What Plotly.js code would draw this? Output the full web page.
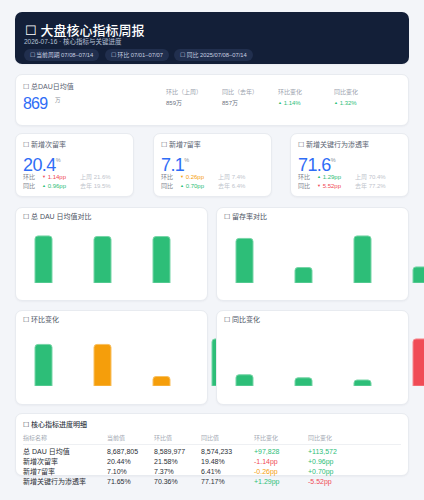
<!DOCTYPE html>
<html><head><meta charset="utf-8">
<script src="https://cdn.plot.ly/plotly-3.0.1.min.js"></script>
<style>
html,body{margin:0;padding:0;width:424px;height:500px;overflow:hidden;background:#f3f5f9;font-family:"Liberation Sans","Noto Sans CJK SC",sans-serif;}
.abs{position:absolute;white-space:nowrap;}
.card{position:absolute;background:#fff;border:1px solid #e8ebf0;border-radius:7px;box-sizing:border-box;box-shadow:0 1px 2px rgba(20,30,60,0.04);}
</style></head><body>
<div id="root" style="position:relative;width:424px;height:500px;"></div>
<script>
// ---------- data ----------
const reportDate = '2026-07-16';
const periodLabels = ['当前周期 07/08–07/14', '环比 07/01–07/07', '同比 2025/07/08–07/14'];
const periods = ['当前', '上周', '去年'];
const dauAvg = [8687805, 8589977, 8574233];
const retD1 = [20.44, 21.58, 19.48];
const retD7 = [7.10, 7.37, 6.41];
const keyRate = [71.646, 70.36, 77.17];
const metricNames = ['总 DAU 日均值', '新增次留率', '新增7留率', '新增关键行为渗透率'];
const curVals = ['8,687,805', '20.44%', '7.10%', '71.65%'];
const wowVals = ['8,589,977', '21.58%', '7.37%', '70.36%'];
const yoyVals = ['8,574,233', '19.48%', '6.41%', '77.17%'];
const wowChg = ['+97,828', '-1.14pp', '-0.26pp', '+1.29pp'];
const yoyChg = ['+113,572', '+0.96pp', '+0.70pp', '-5.52pp'];
const wowPct = [1.14, -1.14, -0.26, 1.29];
const yoyPct = [1.32, 0.96, 0.70, -5.52];
const changeKeys = ['DAU', '次留', '7留', '渗透'];

// ---------- styles ----------
const GREEN = '#2dbe78', ORANGE = '#f59e0b', RED = '#f04b55', BLUE = '#2f6df6';
const wowTableColors = [GREEN, RED, ORANGE, GREEN];
const yoyTableColors = [GREEN, GREEN, GREEN, RED];
const wowBarColors = [GREEN, ORANGE, ORANGE, GREEN];
const yoyBarColors = [GREEN, GREEN, GREEN, RED];
const root = document.getElementById('root');

function card(x, y, w, h, bg) {
  const d = document.createElement('div');
  d.className = 'card';
  d.style.left = x + 'px'; d.style.top = y + 'px';
  d.style.width = w + 'px'; d.style.height = h + 'px';
  if (bg) { d.style.background = bg; d.style.border = 'none'; }
  d._x = x; d._y = y;
  root.appendChild(d);
  return d;
}
function txt(parent, x, cy, html, size, color, extra) {
  const d = document.createElement('div');
  d.className = 'abs';
  const lh = Math.round(size * 1.3);
  d.style.left = (x - parent._x) + 'px';
  d.style.top = (cy - lh / 2 - parent._y) + 'px';
  d.style.fontSize = size + 'px';
  d.style.lineHeight = lh + 'px';
  d.style.color = color;
  if (extra) Object.assign(d.style, extra);
  d.innerHTML = html;
  parent.appendChild(d);
  return d;
}
const fmtWan = v => Math.round(v / 10000) + '万';
const arrow = (v) => '<span style="font-size:4px;vertical-align:1px">' + (v >= 0 ? '▲' : '▼') + '</span>';

// ---------- header ----------
const hdr = card(15, 12, 394, 52, '#131f38');
txt(hdr, 25, 30, '☐ 大盘核心指标周报', 13, '#ffffff', {fontWeight: '500'});
txt(hdr, 24, 42, reportDate + ' · 核心指标与关键进度', 6.5, '#b7c1d5');
const pillX = [24, 105, 174], pillW = [75, 64, 79];
periodLabels.forEach((p, i) => {
  const d = document.createElement('div');
  d.className = 'abs';
  Object.assign(d.style, {left: (pillX[i] - 15) + 'px', top: (49 - 12) + 'px', width: pillW[i] + 'px', height: '12px',
    background: '#212f4e', borderRadius: '6px', fontSize: '5.8px', lineHeight: '12px', color: '#c9d1e1', textAlign: 'center'});
  d.textContent = '☐ ' + p;
  hdr.appendChild(d);
});

// ---------- DAU card ----------
const dc = card(15, 74, 394, 52);
txt(dc, 22, 85, '☐ 总DAU日均值', 7, '#5b6372');
txt(dc, 22, 102.5, Math.round(dauAvg[0] / 10000), 16, BLUE, {letterSpacing: '-0.8px'});
txt(dc, 54, 99.5, '万', 5.5, '#8a8f99');
const dauHead = ['环比（上周）', '同比（去年）', '环比变化', '同比变化'];
const dauCols = [165, 221, 277, 333];
dauHead.forEach((h, i) => txt(dc, dauCols[i], 90.5, h, 6, '#9aa1ad'));
txt(dc, dauCols[0], 101.5, fmtWan(dauAvg[1]), 6, '#6b7280');
txt(dc, dauCols[1], 101.5, fmtWan(dauAvg[2]), 6, '#6b7280');
txt(dc, dauCols[2], 101.5, arrow(wowPct[0]) + ' ' + wowPct[0].toFixed(2) + '%', 6, GREEN);
txt(dc, dauCols[3], 101.5, arrow(yoyPct[0]) + ' ' + yoyPct[0].toFixed(2) + '%', 6, GREEN);

// ---------- small KPI cards ----------
const kpiLeft = [15, 153, 290];
const kpiData = [retD1, retD7, keyRate];
const kpiNames = ['☐ 新增次留率', '☐ 新增7留率', '☐ 新增关键行为渗透率'];
const kpiWowColor = [RED, ORANGE, GREEN];
const kpiYoyColor = [GREEN, GREEN, RED];
kpiLeft.forEach((L, i) => {
  const c = card(L, 133, 119, 64);
  const d = kpiData[i];
  txt(c, L + 7, 143, kpiNames[i], 7, '#5b6372');
  txt(c, L + 7, 159.5, d[0].toFixed(1) + '<span style="font-size:5.5px;vertical-align:9px;color:#8a8f99;letter-spacing:0">%</span>', 18, BLUE, {letterSpacing: '-0.6px'});
  const w = wowPct[i + 1], y = yoyPct[i + 1];
  txt(c, L + 7, 175.5, '环比', 6, '#7b818c');
  txt(c, L + 26, 175.5, arrow(w) + ' ' + Math.abs(w).toFixed(2) + 'pp', 6, kpiWowColor[i]);
  txt(c, L + 64, 175.5, '上周 ' + d[1].toFixed(1) + '%', 6, '#c0c4cc');
  txt(c, L + 7, 185, '同比', 6, '#7b818c');
  txt(c, L + 26, 185, arrow(y) + ' ' + Math.abs(y).toFixed(2) + 'pp', 6, kpiYoyColor[i]);
  txt(c, L + 64, 185, '去年 ' + d[2].toFixed(1) + '%', 6, '#c0c4cc');
});

// ---------- chart cards ----------
function lighten(hex) {
  const n = parseInt(hex.slice(1), 16);
  const r = (n >> 16) & 255, g = (n >> 8) & 255, b = n & 255;
  const f = v => Math.round(v + (255 - v) * 0.35);
  return 'rgb(' + f(r) + ',' + f(g) + ',' + f(b) + ')';
}
function chartCard(L, T, H, title, cats, vals, colors) {
  const c = card(L, T, 193, H);
  txt(c, L + 7, T + 8.5, title, 7, '#4b5363');
  const div = document.createElement('div');
  div.className = 'abs';
  const n = cats.length;
  Object.assign(div.style, {left: '-2px', top: '27px', width: (59 * n) + 'px', height: '48px', overflow: 'visible'});
  c.appendChild(div);
  const maxV = Math.max(...vals);
  Plotly.newPlot(div, [{
    type: 'bar', x: cats, y: vals,
    marker: {color: colors, cornerradius: 3, line: {color: colors.map(lighten), width: 1}},
    hoverinfo: 'skip'
  }], {
    width: 59 * n, height: 48, margin: {l: 0, r: 0, t: 0, b: 0, pad: 0},
    paper_bgcolor: 'rgba(0,0,0,0)', plot_bgcolor: 'rgba(0,0,0,0)',
    bargap: 0.712, showlegend: false,
    xaxis: {type: 'category', visible: false, range: [-0.5, n - 0.5], fixedrange: true},
    yaxis: {visible: false, range: [0, maxV * 1.02], fixedrange: true}
  }, {staticPlot: true, displayModeBar: false});
}
chartCard(15, 207, 94, '☐ 总 DAU 日均值对比', periods, dauAvg, periods.map(() => GREEN));
const retCats = [], retVals = [];
periods.forEach((p, i) => { retCats.push(p + '次留'); retVals.push(retD1[i]); retCats.push(p + '7留'); retVals.push(retD7[i]); });
chartCard(216, 207, 94, '☐ 留存率对比', retCats, retVals, retCats.map(() => GREEN));
chartCard(15, 310, 95, '☐ 环比变化', changeKeys, wowPct.map(Math.abs), wowBarColors);
chartCard(216, 310, 95, '☐ 同比变化', changeKeys, yoyPct.map(Math.abs), yoyBarColors);

// ---------- table ----------
const tb = card(15, 413, 394, 63);
tb.style.overflow = 'visible';
txt(tb, 22, 423.5, '☐ 核心指标进度明细', 7, '#333a45', {fontWeight: '500'});
const colX = [22, 106, 153, 200, 253, 307];
const heads = ['指标名称', '当前值', '环比值', '同比值', '环比变化', '同比变化'];
heads.forEach((h, i) => txt(tb, colX[i], 437, h, 6, '#a3a9b3'));
const line = document.createElement('div');
line.className = 'abs';
Object.assign(line.style, {left: '7px', top: (443 - 413) + 'px', width: '378px', height: '1px', background: '#eef0f3'});
tb.appendChild(line);
metricNames.forEach((m, r) => {
  const cy = 450.5 + r * 10;
  txt(tb, colX[0], cy, m, 7, '#2b2f36');
  txt(tb, colX[1], cy, curVals[r], 7, '#2b2f36');
  txt(tb, colX[2], cy, wowVals[r], 7, '#2b2f36');
  txt(tb, colX[3], cy, yoyVals[r], 7, '#2b2f36');
  txt(tb, colX[4], cy, wowChg[r], 7, wowTableColors[r]);
  txt(tb, colX[5], cy, yoyChg[r], 7, yoyTableColors[r]);
});
</script>
</body></html>
